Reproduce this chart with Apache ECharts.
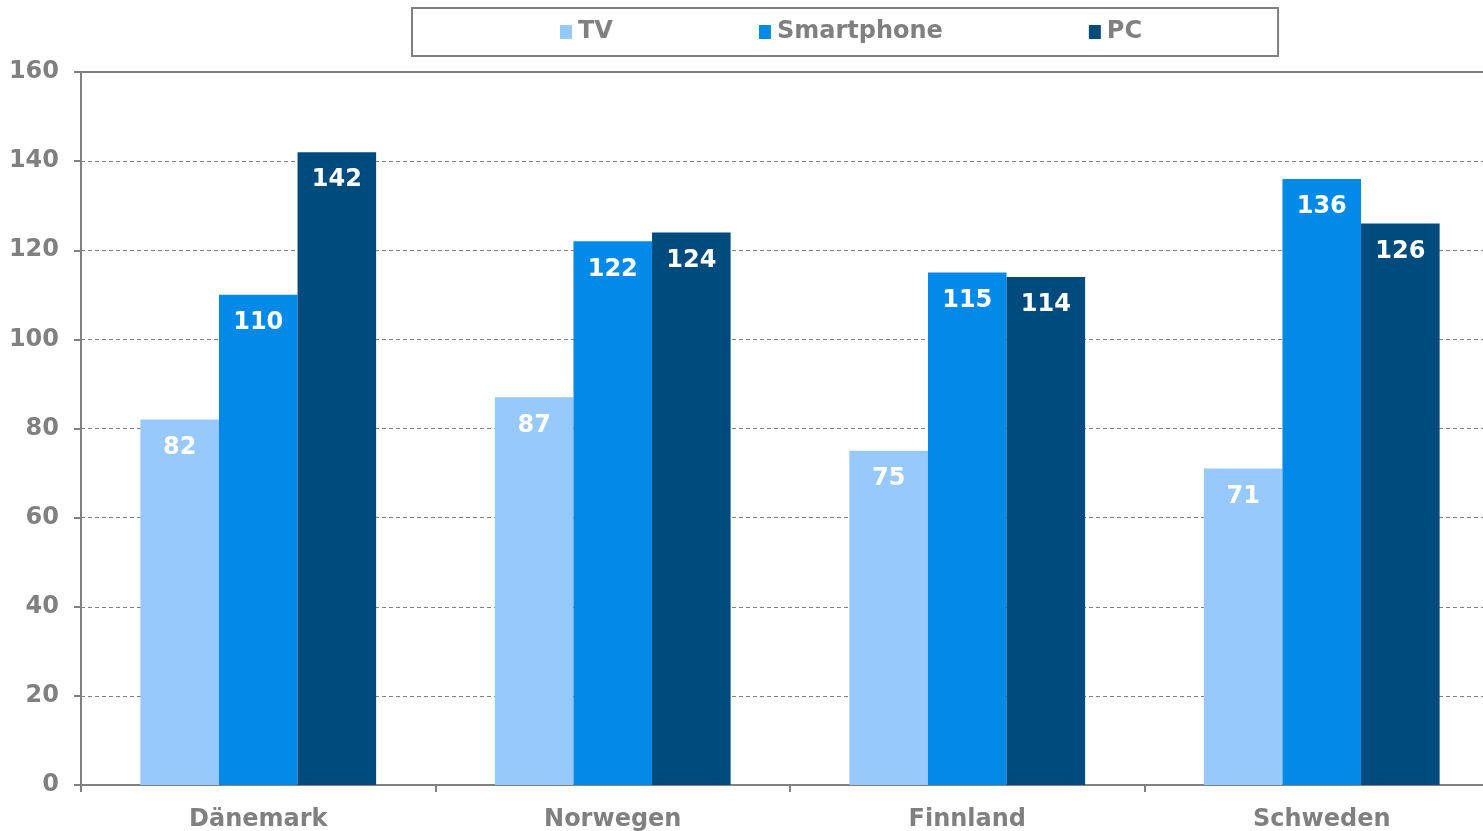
<!DOCTYPE html>
<html>
<head>
    <meta charset="utf-8">
    <title>ECharts</title>
    <script src="https://cdn.jsdelivr.net/npm/echarts@6/dist/echarts.min.js"></script>
    <style>
        html, body { margin: 0; padding: 0; overflow: hidden; background: #fff; }
    </style>
</head>
<body>
    <!-- etwas breiter als das Fenster, rechter Rand wird abgeschnitten -->
    <div id="main" style="width: 1499px;height:831px;"></div>
    <script type="text/javascript">
        // Daten
        let categories = ['Dänemark', 'Norwegen', 'Finnland', 'Schweden']
        let tvData = [82, 87, 75, 71]
        let smartphoneData = [110, 122, 115, 136]
        let pcData = [142, 124, 114, 126]
        let seriesNames = ['TV', 'Smartphone', 'PC']

        let myChart = echarts.init(document.getElementById('main'));

        let fontFam = '"DejaVu Sans", Verdana, sans-serif'
        let grey = '#808080'
        let fs = 24

        // gemeinsame Einstellungen für die Balken
        function makeBar(name, data) {
            return {
                name: name,
                type: 'bar',
                data: data,
                barGap: 0,
                barCategoryGap: '33.5%',
                label: {
                    show: true,
                    position: 'insideTop',
                    distance: 16,
                    color: '#fff',
                    fontFamily: fontFam,
                    fontWeight: 'bold',
                    fontSize: fs
                }
            }
        }

        let option = {
            animation: false,
            color: ['#97c9fd', '#038ae9', '#004b7e'],
            legend: {
                left: 412,
                top: 8,
                padding: [12, 136, 12, 148],
                itemGap: 146,
                itemWidth: 12,
                itemHeight: 14,
                icon: 'rect',
                borderColor: grey,
                borderWidth: 2,
                data: seriesNames,
                textStyle: {
                    color: grey,
                    fontFamily: fontFam,
                    fontWeight: 'bold',
                    fontSize: fs,
                    padding: [4, 0, 0, 1]
                }
            },
            grid: {
                left: 81,
                right: 0,
                top: 72,
                bottom: 46,
                containLabel: false,
                outerBoundsMode: 'none'
            },
            xAxis: [
                {
                    type: 'category',
                    data: categories,
                    axisLine: { lineStyle: { color: grey, width: 2 } },
                    axisTick: { show: true, length: 7, lineStyle: { color: grey, width: 2 } },
                    axisLabel: {
                        color: grey,
                        fontFamily: fontFam,
                        fontWeight: 'bold',
                        fontSize: fs,
                        margin: 23
                    }
                },
                {
                    // obere Rahmenlinie
                    type: 'category',
                    position: 'top',
                    data: categories,
                    axisLine: { lineStyle: { color: grey, width: 2 } },
                    axisTick: { show: false },
                    axisLabel: { show: false }
                }
            ],
            yAxis: {
                type: 'value',
                min: 0,
                max: 160,
                interval: 20,
                axisLine: { show: true, lineStyle: { color: grey, width: 2 } },
                axisTick: { show: true, length: 7, lineStyle: { color: grey, width: 2 } },
                splitLine: { lineStyle: { color: grey, type: [4, 3], width: 1 } },
                axisLabel: {
                    color: grey,
                    fontFamily: fontFam,
                    fontWeight: 'bold',
                    fontSize: fs,
                    margin: 22
                }
            },
            series: [
                makeBar(seriesNames[0], tvData),
                makeBar(seriesNames[1], smartphoneData),
                makeBar(seriesNames[2], pcData)
            ]
        };

        myChart.setOption(option);
    </script>
</body>
</html>
